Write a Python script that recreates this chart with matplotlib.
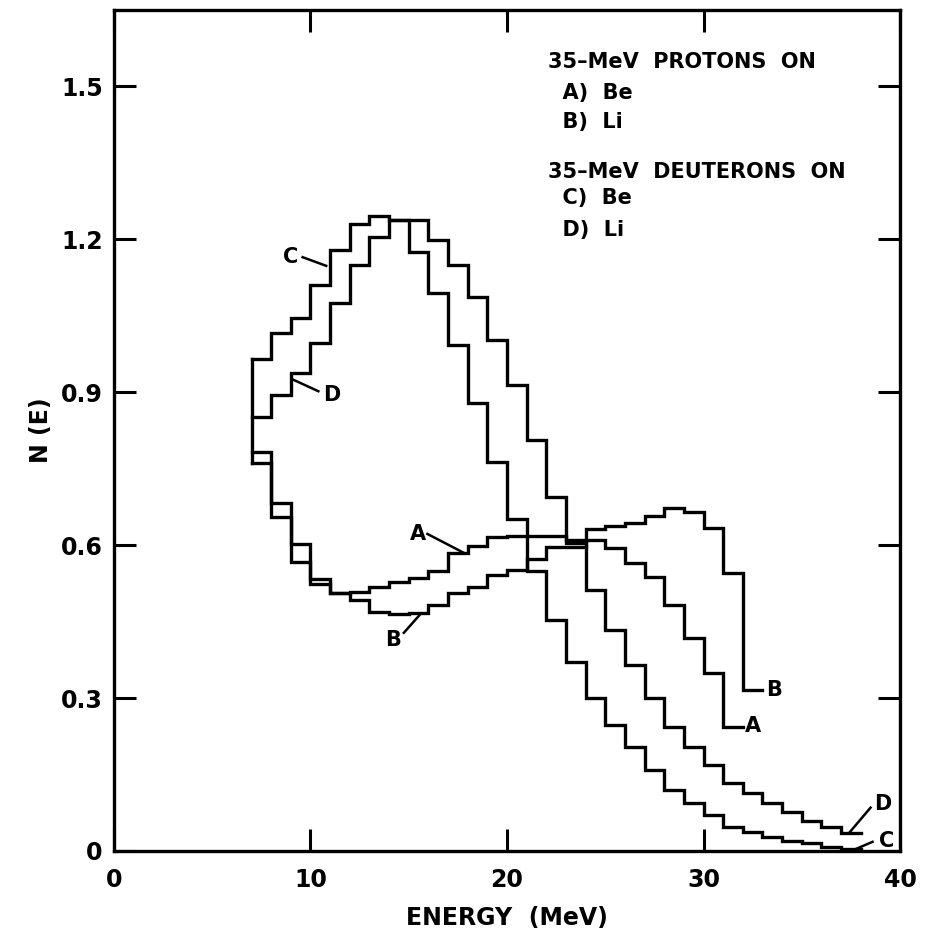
import numpy as np
import matplotlib.pyplot as plt

# neutron spectra, 1-MeV bins starting at 7 MeV
e_start = 7
# A) 35-MeV protons on Be
n_A = [0.782, 0.682, 0.602, 0.533, 0.506, 0.508, 0.518, 0.527, 0.535, 0.549,
       0.584, 0.598, 0.616, 0.618, 0.618, 0.618, 0.610, 0.610, 0.594, 0.565,
       0.537, 0.482, 0.418, 0.349, 0.243]
# B) 35-MeV protons on Li
n_B = [0.761, 0.655, 0.567, 0.524, 0.506, 0.492, 0.469, 0.465, 0.467, 0.482,
       0.506, 0.518, 0.541, 0.551, 0.573, 0.596, 0.596, 0.631, 0.637, 0.643,
       0.657, 0.672, 0.665, 0.633, 0.545, 0.316]
# C) 35-MeV deuterons on Be
n_C = [0.965, 1.016, 1.045, 1.110, 1.180, 1.231, 1.245, 1.237, 1.175, 1.094,
       0.992, 0.878, 0.763, 0.651, 0.550, 0.453, 0.371, 0.300, 0.247, 0.204,
       0.159, 0.120, 0.094, 0.071, 0.047, 0.037, 0.027, 0.020, 0.016, 0.008,
       0.004]
# D) 35-MeV deuterons on Li
n_D = [0.851, 0.894, 0.937, 0.996, 1.075, 1.149, 1.204, 1.237, 1.237, 1.198,
       1.149, 1.086, 1.002, 0.914, 0.806, 0.694, 0.605, 0.512, 0.433, 0.365,
       0.300, 0.243, 0.204, 0.169, 0.133, 0.114, 0.094, 0.076, 0.059, 0.047,
       0.035]

x_ticks = [0, 10, 20, 30, 40]
y_ticks = [0, 0.3, 0.6, 0.9, 1.2, 1.5]
y_tick_labels = ["0", "0.3", "0.6", "0.9", "1.2", "1.5"]

legend_lines = ["35\u2013MeV  PROTONS  ON", "  A)  Be", "  B)  Li",
                "35\u2013MeV  DEUTERONS  ON", "  C)  Be", "  D)  Li"]
legend_y = [1.547, 1.488, 1.431, 1.333, 1.282, 1.218]

# curve labels: (text, label pos, pointer start, pointer end)
labels = [
    ("C", (9.0, 1.165), (9.6, 1.165), (10.8, 1.148)),
    ("D", (11.1, 0.894), (10.4, 0.902), (9.1, 0.925)),
    ("A", (15.45, 0.622), (15.95, 0.622), (17.8, 0.585)),
    ("B", (14.2, 0.414), (14.75, 0.428), (15.6, 0.465)),
    ("B", (33.6, 0.316), None, None),
    ("A", (32.5, 0.245), None, None),
    ("D", (39.1, 0.092), (38.5, 0.085), (37.4, 0.035)),
    ("C", (39.3, 0.020), (38.6, 0.018), (37.7, 0.003)),
]

plt.rcParams['font.family'] = ['DejaVu Sans']
lw = 2.4

fig = plt.figure(figsize=(9.25, 9.4), dpi=100)
ax = fig.add_axes([0.1232, 0.0947, 0.8498, 0.8947])


def stair(vals):
    edges = e_start + np.arange(len(vals) + 1)
    xs = np.repeat(edges, 2)[1:-1]
    ys = np.repeat(vals, 2)
    return xs, ys


for vals in [n_A, n_B, n_C, n_D]:
    xs, ys = stair(vals)
    ax.plot(xs, ys, color='black', lw=lw, solid_joinstyle='miter')

# common left edge at 7 MeV
firsts = [n_A[0], n_B[0], n_C[0], n_D[0]]
ax.plot([e_start, e_start], [min(firsts), max(firsts)], color='black', lw=lw)

for txt, pos, p0, p1 in labels:
    ax.text(pos[0], pos[1], txt, fontsize=15, fontweight='bold',
            ha='center', va='center')
    if p0 is not None:
        ax.plot([p0[0], p1[0]], [p0[1], p1[1]], color='black', lw=1.8)

for t, yy in zip(legend_lines, legend_y):
    ax.text(22.1, yy, t, fontsize=15, fontweight='bold', ha='left', va='center')

ax.set_xlim(0, 40)
ax.set_ylim(0, 1.65)
ax.set_xticks(x_ticks)
ax.set_yticks(y_ticks)
ax.set_yticklabels(y_tick_labels)
ax.tick_params(direction='in', length=16, width=2.2, top=True, right=True,
               labelsize=17)
ax.tick_params(axis='x', pad=12)
ax.tick_params(axis='y', pad=8)
for lab in ax.get_xticklabels() + ax.get_yticklabels():
    lab.set_fontweight('bold')
for s in ax.spines.values():
    s.set_linewidth(2.4)

ax.set_xlabel("ENERGY  (MeV)", fontsize=17, fontweight='bold', labelpad=10)
ax.set_ylabel("N (E)", fontsize=17, fontweight='bold', labelpad=6)

fig.savefig("out.png", dpi=100)
